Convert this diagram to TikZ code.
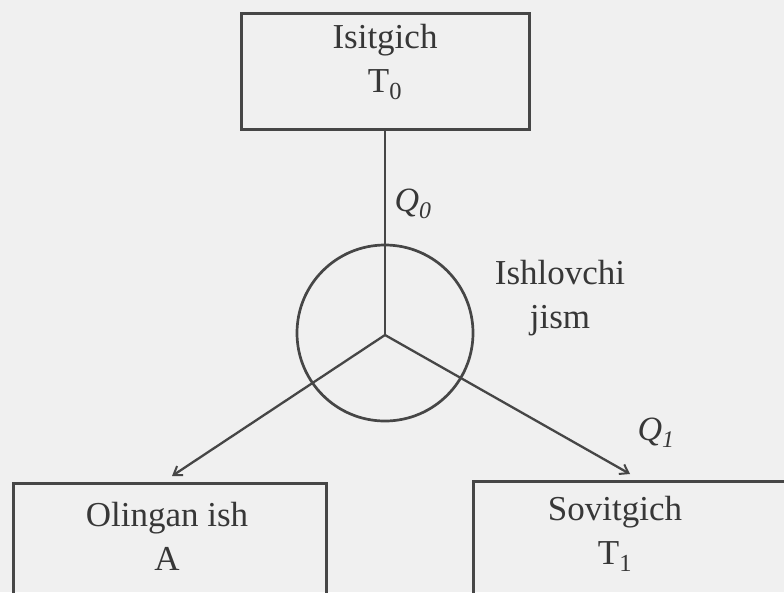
\documentclass[tikz,border=0pt]{standalone}
\usepackage{fontspec}
\setmainfont{Liberation Serif}
\usetikzlibrary{arrows.meta}
\definecolor{bg}{RGB}{240,240,240}
\definecolor{ink}{RGB}{70,70,70}
\definecolor{txt}{RGB}{55,55,55}
\begin{document}
\begin{tikzpicture}[x=1pt,y=-1pt,
  boxst/.style={draw=ink, line width=3pt, rectangle, inner sep=0pt},
  lbl/.style={text=txt, font=\fontsize{35}{44}\selectfont, align=center, inner sep=0pt},
  qlbl/.style={text=txt, font=\fontsize{34}{40}\selectfont\itshape, inner sep=0pt},
  conn/.style={draw=ink, line width=2.3pt},
  arr/.style={conn, -{Straight Barb[length=8pt,width=11pt,line width=2pt]}}]
\fill[bg] (0,0) rectangle (784,592);
\clip (0,0) rectangle (784,592);
% top box
\node[boxst, minimum width=288, minimum height=116] (src) at (385,71) {};
\node[lbl] (srct) at (385,62) {Isitgich\\T\textsubscript{0}};
% working body
\node[draw=ink, line width=2.7pt, circle, minimum size=176, inner sep=0pt] (body) at (385,333) {};
\coordinate (j) at (385,335);
\node[lbl] (bodyt) at (560,298) {Ishlovchi\\jism};
% bottom boxes
\node[boxst, anchor=north west, minimum width=313, minimum height=200] (work) at (12,482) {};
\node[lbl] (workt) at (167,536) {Olingan ish\\A};
\node[boxst, anchor=north west, minimum width=400, minimum height=200] (cold) at (472,480) {};
\node[lbl] (coldt) at (615,534) {Sovitgich\\T\textsubscript{1}};
% connectors
\coordinate (tw) at (172,476);
\coordinate (tc) at (630,474);
\draw[conn] (src.south) -- (j);
\draw[arr] (j) -- (tw);
\draw[arr] (j) -- (tc);
% heat labels
\node[qlbl] (q0) at (413,204) {Q\textsubscript{0}};
\node[qlbl] (q1) at (656,433) {Q\textsubscript{1}};
\end{tikzpicture}
\end{document}
